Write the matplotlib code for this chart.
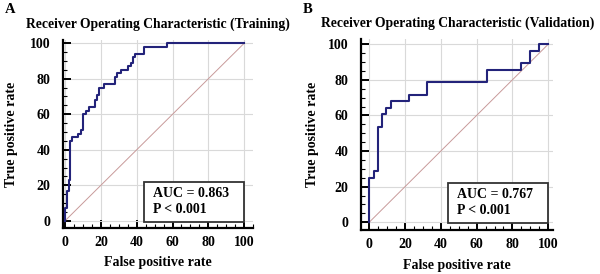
import matplotlib
matplotlib.use("Agg")
import matplotlib.pyplot as plt
from matplotlib.patches import Rectangle
from matplotlib.ticker import MultipleLocator

# ROC step corners: false positive rate where each rise happens, and the true positive rate after it
train_fpr = [0, 1, 2, 3, 4, 7, 9, 10, 12, 13.5, 17, 18, 19, 22, 28, 29, 31, 35, 37, 38, 39, 44, 57, 100]
train_tpr = [7, 17, 23, 45, 47, 49, 51, 60, 62, 64, 68, 71, 75, 77, 81, 83, 85, 87, 89, 92, 94, 98, 100, 100]

val_fpr = [0, 2.5, 5, 7, 9.5, 12, 22, 32, 66, 85, 90, 95, 100]
val_tpr = [25, 28.6, 53.6, 60.7, 64.3, 67.9, 71.4, 78.6, 85.7, 89.3, 96.4, 100, 100]

titles = ["Receiver Operating Characteristic (Training)",
          "Receiver Operating Characteristic (Validation)"]
panel_labels = ["A", "B"]
auc_values = ["0.863", "0.767"]
p_values = ["< 0.001", "< 0.001"]
ticks = [0, 20, 40, 60, 80, 100]

plt.rcParams["font.family"] = ["Liberation Serif", "DejaVu Serif"]
plt.rcParams["font.weight"] = "bold"

fig = plt.figure(figsize=(6, 2.74), dpi=100)
boxes = [[0.105, 0.168, 0.317, 0.686], [0.602, 0.161, 0.320, 0.697]]
xlims = [(-1.1, 105), (-4.5, 102.8)]
ylims = [(-4.0, 101.8), (-4.3, 103)]
ylab_x = [-0.237, -0.219]
curves = [(train_fpr, train_tpr), (val_fpr, val_tpr)]

for i in range(2):
    ax = fig.add_axes(boxes[i])
    fpr, tpr = curves[i]
    ax.plot([0] + fpr, [0] + tpr, drawstyle="steps-post", color="#23237a", lw=1.5, zorder=3)
    ax.plot([0, 100], [0, 100], color="#c89a9a", lw=0.7, zorder=2)

    ax.set_xlim(*xlims[i])
    ax.set_ylim(*ylims[i])
    ax.set_xticks(ticks)
    ax.set_yticks(ticks)
    ax.xaxis.set_minor_locator(MultipleLocator(5))
    ax.yaxis.set_minor_locator(MultipleLocator(5))
    ax.grid(True, which="major", color="#d9d9d9", lw=0.8, zorder=0)
    for side in ["top", "right"]:
        ax.spines[side].set_visible(False)
    for side in ["left", "bottom"]:
        ax.spines[side].set_linewidth(1.6)
    ax.tick_params(which="major", direction="in", length=6, width=1.4, labelsize=10)
    ax.tick_params(axis="y", which="major", pad=9)
    ax.tick_params(axis="x", which="major", pad=6)
    ax.tick_params(which="minor", direction="in", length=3, width=0.8)
    for lab in ax.get_xticklabels() + ax.get_yticklabels():
        lab.set_fontweight("bold")

    ax.set_title(titles[i], fontsize=9.8, fontweight="bold", pad=9)
    ax.set_xlabel("False positive rate", fontsize=10, fontweight="bold")
    ax.set_ylabel("True positive rate", fontsize=10, fontweight="bold")
    ax.xaxis.set_label_coords(0.5, -0.15)
    ax.yaxis.set_label_coords(ylab_x[i], 0.5)

    ax.add_patch(Rectangle((44, -0.5), 56, 22.5, fc="white", ec="#333333", lw=1.3, zorder=5))
    ax.text(49, 11, f"AUC = {auc_values[i]}\nP {p_values[i]}", fontsize=10, fontweight="bold",
            va="center", ha="left", linespacing=1.35, zorder=6)

    fig.text(boxes[i][0] - 0.097, 0.965, panel_labels[i], fontsize=10.5, fontweight="bold",
             va="center", ha="left")

fig.savefig("out.png", dpi=100)
